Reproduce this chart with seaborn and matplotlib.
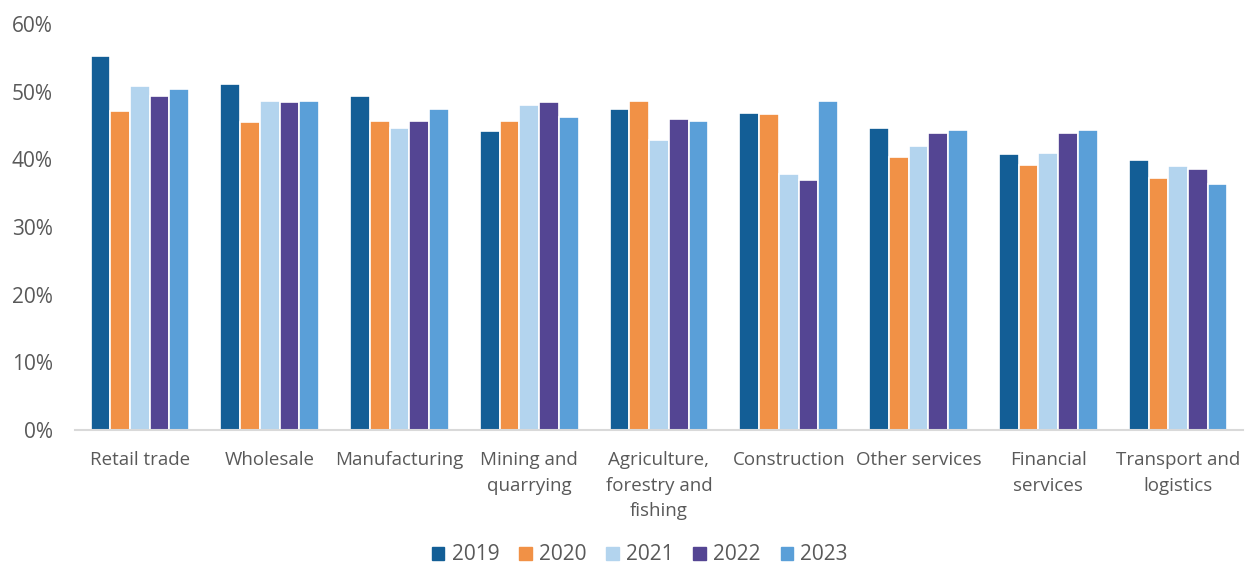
import matplotlib
matplotlib.use("Agg")
import matplotlib.pyplot as plt
import seaborn as sns
import pandas as pd
from matplotlib.ticker import PercentFormatter

sectors = ["Retail trade", "Wholesale", "Manufacturing", "Mining and\nquarrying",
           "Agriculture,\nforestry and\nfishing", "Construction", "Other services",
           "Financial\nservices", "Transport and\nlogistics"]
years = ["2019", "2020", "2021", "2022", "2023"]

share_2019 = [55.2, 51.1, 49.4, 44.2, 47.4, 46.9, 44.6, 40.8, 39.9]
share_2020 = [47.2, 45.5, 45.7, 45.7, 48.6, 46.7, 40.3, 39.1, 37.3]
share_2021 = [50.9, 48.6, 44.7, 48.0, 42.8, 37.8, 41.9, 41.0, 39.0]
share_2022 = [49.3, 48.4, 45.6, 48.5, 45.9, 37.0, 43.9, 43.9, 38.5]
share_2023 = [50.4, 48.6, 47.5, 46.2, 45.6, 48.6, 44.4, 44.4, 36.3]

colors = ["#135E96", "#F19146", "#B3D4EE", "#544593", "#5A9FD8"]

series = [share_2019, share_2020, share_2021, share_2022, share_2023]
df = pd.DataFrame([
    {"sector": s, "year": y, "share": v / 100}
    for y, vals in zip(years, series)
    for s, v in zip(sectors, vals)
])

sns.set_style("white")
plt.rcParams["font.family"] = ["Open Sans", "DejaVu Sans"]

fig, ax = plt.subplots(figsize=(12.45, 5.67), dpi=100)
fig.subplots_adjust(left=75 / 1245, right=1243 / 1245, top=1 - 24 / 567, bottom=1 - 430 / 567)

sns.barplot(data=df, x="sector", y="share", hue="year", order=sectors,
            hue_order=years, palette=colors, saturation=1, width=0.76,
            edgecolor="white", linewidth=1.2, ax=ax, legend=True)

ax.set_ylim(0, 0.6)
ax.set_yticks([0, 0.1, 0.2, 0.3, 0.4, 0.5, 0.6])
ax.yaxis.set_major_formatter(PercentFormatter(1.0, decimals=0))
ax.set_xlim(-0.5, len(sectors) - 0.5)
ax.set_xlabel("")
ax.set_ylabel("")
for side in ["top", "right", "left"]:
    ax.spines[side].set_visible(False)
ax.spines["bottom"].set_color("#D9D9D9")
ax.spines["bottom"].set_linewidth(1.5)
ax.tick_params(axis="both", length=0, colors="#595959")
ax.tick_params(axis="x", pad=15, labelsize=13.5)
ax.tick_params(axis="y", pad=16, labelsize=15)
for lbl in ax.get_xticklabels():
    lbl.set_linespacing(1.55)
    lbl.set_verticalalignment("top")

ax.get_legend().remove()
handles = [plt.Rectangle((0, 0), 1, 1, color=c) for c in colors]
fig.legend(handles, years, loc="center", bbox_to_anchor=(0.514, 1 - 555 / 567),
           ncol=5, frameon=False, fontsize=15, labelcolor="#595959",
           handlelength=0.6, handleheight=0.6, handletextpad=0.35, columnspacing=0.95)

fig.savefig("out.png", dpi=100)
